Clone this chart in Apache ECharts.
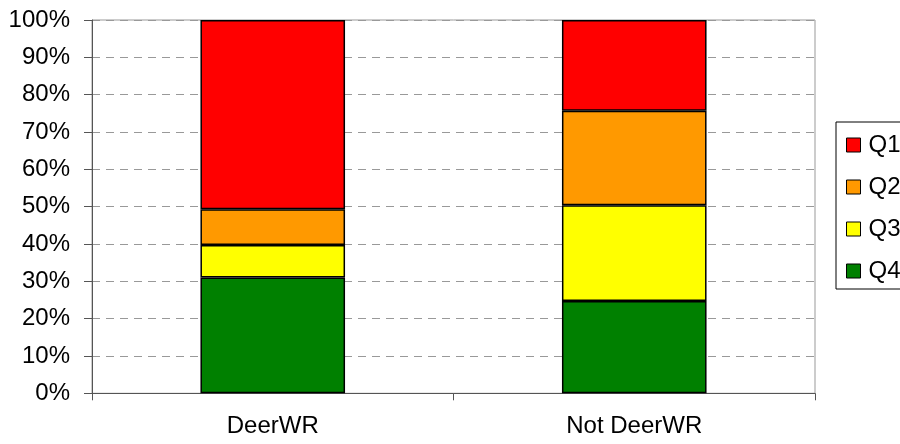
<!DOCTYPE html>
<html>
<head>
<meta charset="utf-8">
<script src="https://cdn.jsdelivr.net/npm/echarts@6/dist/echarts.min.js"></script>
<style>html,body{margin:0;padding:0;background:#fff}#c{width:900px;height:444px}</style>
</head>
<body>
<div id="c"></div>
<script>
var categories = ['DeerWR', 'Not DeerWR'];
var q1 = [50.7, 24.3];
var q2 = [9.6, 25.3];
var q3 = [8.7, 25.7];
var q4 = [31.0, 24.7];
var seriesNames = ['Q1', 'Q2', 'Q3', 'Q4'];
var seriesColors = ['#FF0000', '#FF9900', '#FFFF00', '#008000'];
var seriesValues = [q1, q2, q3, q4];

var font = '"Liberation Sans", Arial, sans-serif';
var chart = echarts.init(document.getElementById('c'));

var series = [];
for (var i = seriesNames.length - 1; i >= 0; i--) {
  series.push({
    name: seriesNames[i],
    type: 'bar',
    stack: 'total',
    data: seriesValues[i],
    barCategoryGap: '60%',
    itemStyle: { color: seriesColors[i], borderColor: '#000', borderWidth: 1.5 }
  });
}

chart.setOption({
  animation: false,
  backgroundColor: '#fff',
  textStyle: { fontFamily: font },
  grid: { left: 92, right: 85, top: 20, bottom: 50.7, show: true, borderColor: '#999', borderWidth: 1, backgroundColor: 'transparent' },
  legend: {
    data: seriesNames,
    orient: 'vertical',
    left: 836, top: 122,
    padding: [11, 80, 6, 10],
    itemWidth: 14, itemHeight: 14, itemGap: 18,
    borderColor: '#000', borderWidth: 1,
    icon: 'rect',
    itemStyle: { borderColor: '#000', borderWidth: 1 },
    textStyle: { fontFamily: font, fontSize: 24, color: '#000', lineHeight: 24, padding: [0,0,0,3] }
  },
  xAxis: {
    type: 'category',
    data: categories,
    axisLine: { lineStyle: { color: '#555', width: 1 } },
    axisTick: { show: true, length: 7, alignWithLabel: false, lineStyle: { color: '#555' } },
    axisLabel: { color: '#000', fontSize: 24, fontFamily: font, margin: 21 }
  },
  yAxis: {
    type: 'value',
    min: 0, max: 100, interval: 10,
    axisLine: { show: true, lineStyle: { color: '#555', width: 1 } },
    axisTick: { show: true, length: 8, lineStyle: { color: '#555' } },
    axisLabel: { color: '#000', fontSize: 24, fontFamily: font, margin: 22, formatter: '{value}%' },
    splitLine: { show: true, lineStyle: { color: '#999', type: [8, 6], width: 1 } }
  },
  series: series
});
</script>
</body>
</html>
